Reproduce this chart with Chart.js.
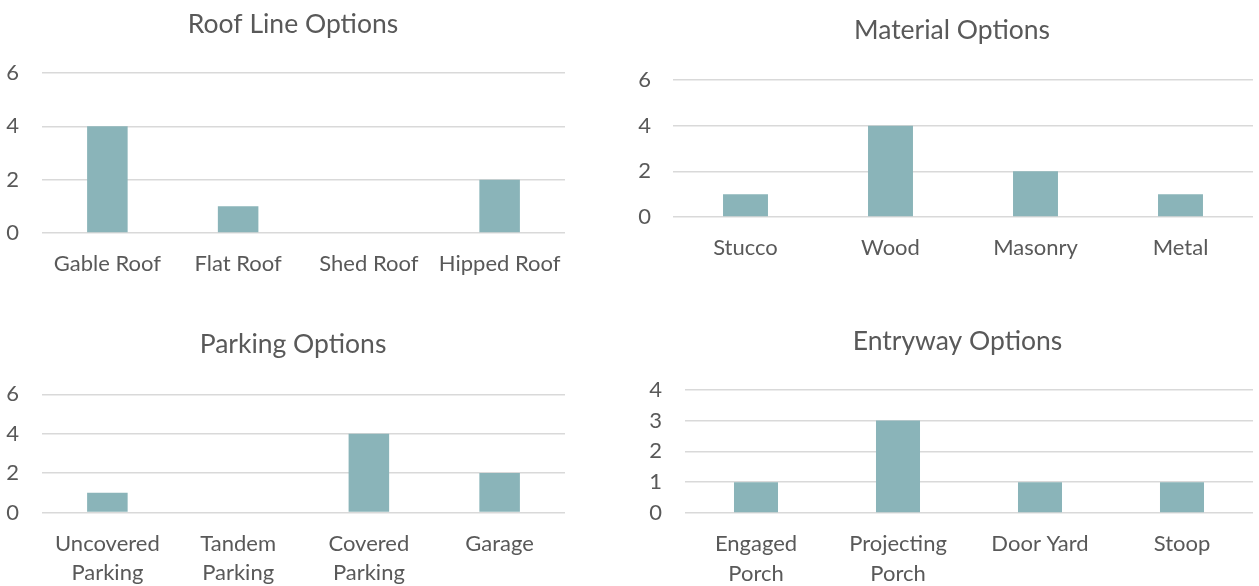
<!DOCTYPE html>
<html>
<head>
<meta charset="utf-8">
<script src="https://cdn.jsdelivr.net/npm/chart.js@4"></script>
<style>
  html, body { margin: 0; padding: 0; background: #ffffff; width: 1259px; height: 586px; overflow: hidden; }
  .box { position: absolute; }
</style>
</head>
<body>
<div class="box" style="left:0px;top:0px;width:586px;height:293px;"><canvas id="c1"></canvas></div>
<div class="box" style="left:620px;top:0px;width:664px;height:293px;"><canvas id="c2"></canvas></div>
<div class="box" style="left:0px;top:300px;width:586px;height:286px;"><canvas id="c3"></canvas></div>
<div class="box" style="left:620px;top:300px;width:675px;height:286px;"><canvas id="c4"></canvas></div>
<script>
// ---- data ----
const roofTitle = 'Roof Line Options';
const roofCategories = ['Gable Roof', 'Flat Roof', 'Shed Roof', 'Hipped Roof'];
const roofValues = [4, 1, 0, 2];
const roofTicks = [0, 2, 4, 6];

const materialTitle = 'Material Options';
const materialCategories = ['Stucco', 'Wood', 'Masonry', 'Metal'];
const materialValues = [1, 4, 2, 1];
const materialTicks = [0, 2, 4, 6];

const parkingTitle = 'Parking Options';
const parkingCategories = [['Uncovered', 'Parking'], ['Tandem', 'Parking'], ['Covered', 'Parking'], 'Garage'];
const parkingValues = [1, 0, 4, 2];
const parkingTicks = [0, 2, 4, 6];

const entryTitle = 'Entryway Options';
const entryCategories = [['Engaged', 'Porch'], ['Projecting', 'Porch'], 'Door Yard', 'Stoop'];
const entryValues = [1, 3, 1, 1];
const entryTicks = [0, 1, 2, 3, 4];

// ---- style ----
const FONT = 'Lato, "Open Sans", sans-serif';
const TEXT = '#595959';
const BAR = '#8AB4B9';
const GRID = '#D9D9D9';

function makeChart(id, title, cats, vals, ticks, L) {
  const step = ticks[1] - ticks[0];
  return new Chart(document.getElementById(id), {
    type: 'bar',
    data: {
      labels: cats,
      datasets: [{ data: vals, yAxisID: 'y', xAxisID: 'x', backgroundColor: BAR, borderWidth: 0,
                   barPercentage: 0.31, categoryPercentage: 1 }]
    },
    options: {
      responsive: true,
      maintainAspectRatio: false,
      animation: false,
      events: [],
      layout: { padding: 0 },
      plugins: {
        legend: { display: false },
        tooltip: { enabled: false },
        title: {
          display: true, text: title, color: TEXT,
          font: { family: FONT, size: 26.5, weight: 'normal', lineHeight: 1.2 },
          padding: { top: L.titleTop, bottom: L.titleBottom }
        }
      },
      scales: {
        x: {
          grid: { display: false, drawTicks: false },
          border: { display: false },
          ticks: { color: TEXT, padding: 16, maxRotation: 0, autoSkip: false,
                   font: { family: FONT, size: 22, lineHeight: 1.36 } },
          afterFit: s => { s.height = L.xHeight; }
        },
        y: {
          position: 'left',
          min: ticks[0], max: ticks[ticks.length - 1],
          grid: { color: GRID, lineWidth: 1.6, drawTicks: false },
          border: { display: false },
          ticks: { color: TEXT, padding: L.yPad, stepSize: step,
                   font: { family: FONT, size: 22, lineHeight: 1.2 } },
          afterFit: s => { s.width = L.yWidth; }
        },
        yRight: {
          type: 'linear', position: 'right', display: true,
          grid: { display: false, drawTicks: false },
          border: { display: false },
          ticks: { display: false },
          afterFit: s => { s.width = L.rightSpace; }
        }
      }
    }
  });
}

makeChart('c1', roofTitle, roofCategories, roofValues, roofTicks,
  { rightSpace: 21, titleTop: 9, titleBottom: 32.2, xHeight: 60, yWidth: 42, yPad: 23 });
makeChart('c2', materialTitle, materialCategories, materialValues, materialTicks,
  { rightSpace: 31, titleTop: 15, titleBottom: 33.2, xHeight: 76, yWidth: 53, yPad: 22 });
makeChart('c3', parkingTitle, parkingCategories, parkingValues, parkingTicks,
  { rightSpace: 21, titleTop: 29, titleBottom: 33.5, xHeight: 73.5, yWidth: 42, yPad: 23 });
makeChart('c4', entryTitle, entryCategories, entryValues, entryTicks,
  { rightSpace: 42, titleTop: 26, titleBottom: 32, xHeight: 73, yWidth: 65, yPad: 23 });
</script>
</body>
</html>
